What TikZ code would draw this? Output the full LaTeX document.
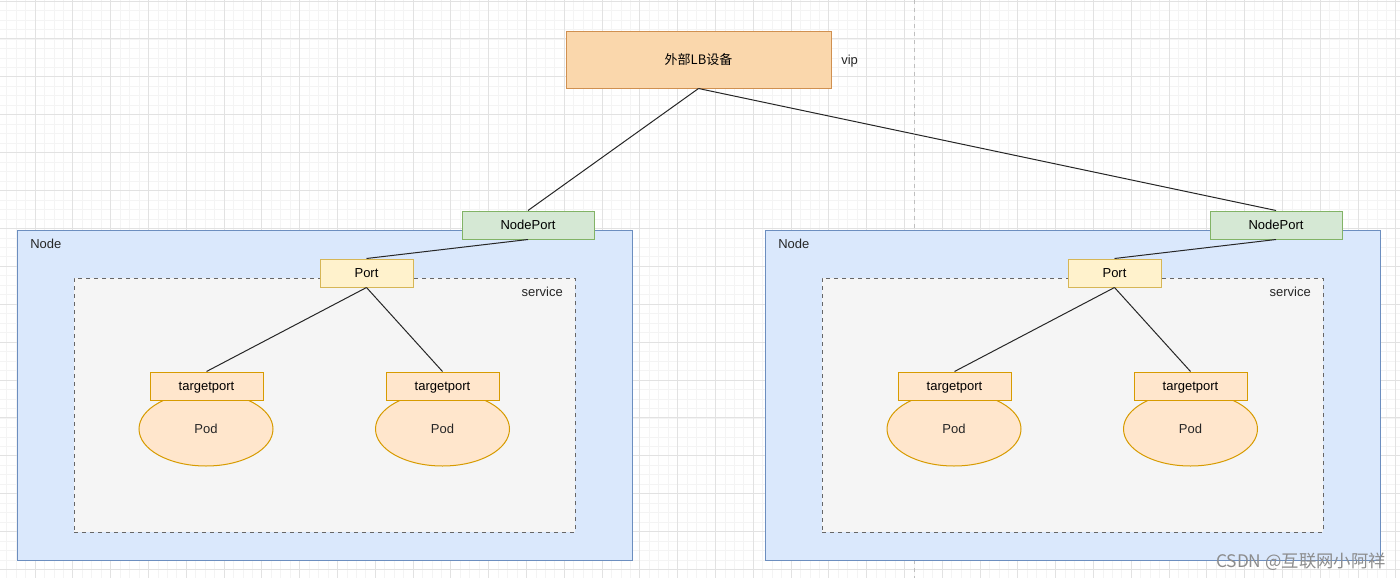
\documentclass[tikz,border=0pt]{standalone}
\usepackage{fontspec}
\setmainfont{Liberation Sans}
\newfontfamily\cjk{Noto Sans CJK SC}
\usetikzlibrary{shapes.geometric}
\definecolor{lbfill}{HTML}{FAD7AC}
\definecolor{lbdraw}{HTML}{D09050}
\definecolor{nodefill}{HTML}{DAE8FC}
\definecolor{nodedraw}{HTML}{6C8EBF}
\definecolor{npfill}{HTML}{D5E8D4}
\definecolor{npdraw}{HTML}{82B366}
\definecolor{portfill}{HTML}{FFF2CC}
\definecolor{portdraw}{HTML}{D6B656}
\definecolor{svcfill}{HTML}{F5F5F5}
\definecolor{svcdraw}{HTML}{666666}
\definecolor{podfill}{HTML}{FFE6CC}
\definecolor{poddraw}{HTML}{D79B00}
\definecolor{majorgrid}{HTML}{E2E2E2}
\definecolor{minorgrid}{HTML}{F4F4F4}
\tikzset{
  every node/.style={font=\fontsize{9.75pt}{12pt}\selectfont, inner sep=0pt, text height=0.716em, text depth=0pt},
  box/.style={rectangle, line width=0.75pt},
  lbbox/.style={box, fill=lbfill, draw=lbdraw, minimum width=265*0.75pt, minimum height=57*0.75pt, text height=0.76em},
  nodebox/.style={box, fill=nodefill, draw=nodedraw, minimum width=615*0.75pt, minimum height=330*0.75pt},
  npbox/.style={box, fill=npfill, draw=npdraw, minimum width=132*0.75pt, minimum height=28*0.75pt},
  portbox/.style={box, fill=portfill, draw=portdraw, minimum width=93*0.75pt, minimum height=28*0.75pt},
  svcbox/.style={box, fill=svcfill, draw=svcdraw, dashed, line width=0.6pt, minimum width=501*0.75pt, minimum height=254*0.75pt},
  tpbox/.style={box, fill=podfill, draw=poddraw, minimum width=113*0.75pt, minimum height=28*0.75pt},
  podshape/.style={ellipse, fill=podfill, draw=poddraw, line width=0.75pt, minimum width=134*0.75pt, minimum height=74*0.75pt},
  link/.style={draw=black!85, line width=0.75pt},
  lbl/.style={text=black!85}
}
\begin{document}
\begin{tikzpicture}[x=0.75pt, y=-0.75pt]
\fill[white] (0,0) rectangle (1400,578);
\useasboundingbox (0,0) rectangle (1400,578);
% grid
\foreach \m in {-3,...,144} \draw[minorgrid, line width=0.5pt] ({35+9.45*\m},0) -- ({35+9.45*\m},578);
\foreach \m in {0,...,60} \draw[minorgrid, line width=0.5pt] (0,{1+9.475*\m}) -- (1400,{1+9.475*\m});
\foreach \k in {0,...,36} \draw[majorgrid, line width=0.75pt] ({35+37.8*\k},0) -- ({35+37.8*\k},578);
\foreach \k in {0,...,15} \draw[majorgrid, line width=0.75pt] (0,{1+37.9*\k}) -- (1400,{1+37.9*\k});
\draw[black!25, dashed, line width=0.6pt] (914,0) -- (914,578);

% top
\node[lbbox] (lb) at (698.5,59.5) {\cjk 外部LB设备};
\node[lbl, anchor=west] (vip) at (841,60) {vip};

% left node
\node[nodebox] (nodeL) at (324.5,395) {};
\node[lbl, anchor=west] (nodeLlbl) at (30,244) {Node};
\node[svcbox] (svcL) at (324.5,405) {};
\node[lbl, anchor=east] (svcLlbl) at (563,292) {service};
\node[npbox] (npL) at (528,225) {NodePort};
\node[portbox] (portL) at (366.5,273) {Port};
\node[podshape] (podL1) at (206,429) {};
\node[podshape] (podL2) at (442.5,429) {};
\node[lbl] at (206,429) {Pod};
\node[lbl] at (442.5,429) {Pod};
\node[tpbox] (tpL1) at (206.5,386) {targetport};
\node[tpbox] (tpL2) at (442.5,386) {targetport};

% right node
\node[nodebox] (nodeR) at (1072.5,395) {};
\node[lbl, anchor=west] (nodeRlbl) at (778,244) {Node};
\node[svcbox] (svcR) at (1072.5,405) {};
\node[lbl, anchor=east] (svcRlbl) at (1311,292) {service};
\node[npbox] (npR) at (1276,225) {NodePort};
\node[portbox] (portR) at (1114.5,273) {Port};
\node[podshape] (podR1) at (954,429) {};
\node[podshape] (podR2) at (1190.5,429) {};
\node[lbl] at (954,429) {Pod};
\node[lbl] at (1190.5,429) {Pod};
\node[tpbox] (tpR1) at (954.5,386) {targetport};
\node[tpbox] (tpR2) at (1190.5,386) {targetport};

% connectors
\draw[link] (lb.south) -- (npL.north);
\draw[link] (lb.south) -- (npR.north);
\draw[link] (npL.south) -- (portL.north);
\draw[link] (npR.south) -- (portR.north);
\draw[link] (portL.south) -- (tpL1.north);
\draw[link] (portL.south) -- (tpL2.north);
\draw[link] (portR.south) -- (tpR1.north);
\draw[link] (portR.south) -- (tpR2.north);

% watermark
\node[anchor=east, text=black!45, text height=0.8em, font=\cjk\fontsize{13pt}{15pt}\selectfont] (wm) at (1386,562) {CSDN @互联网小阿祥};
\end{tikzpicture}
\end{document}
